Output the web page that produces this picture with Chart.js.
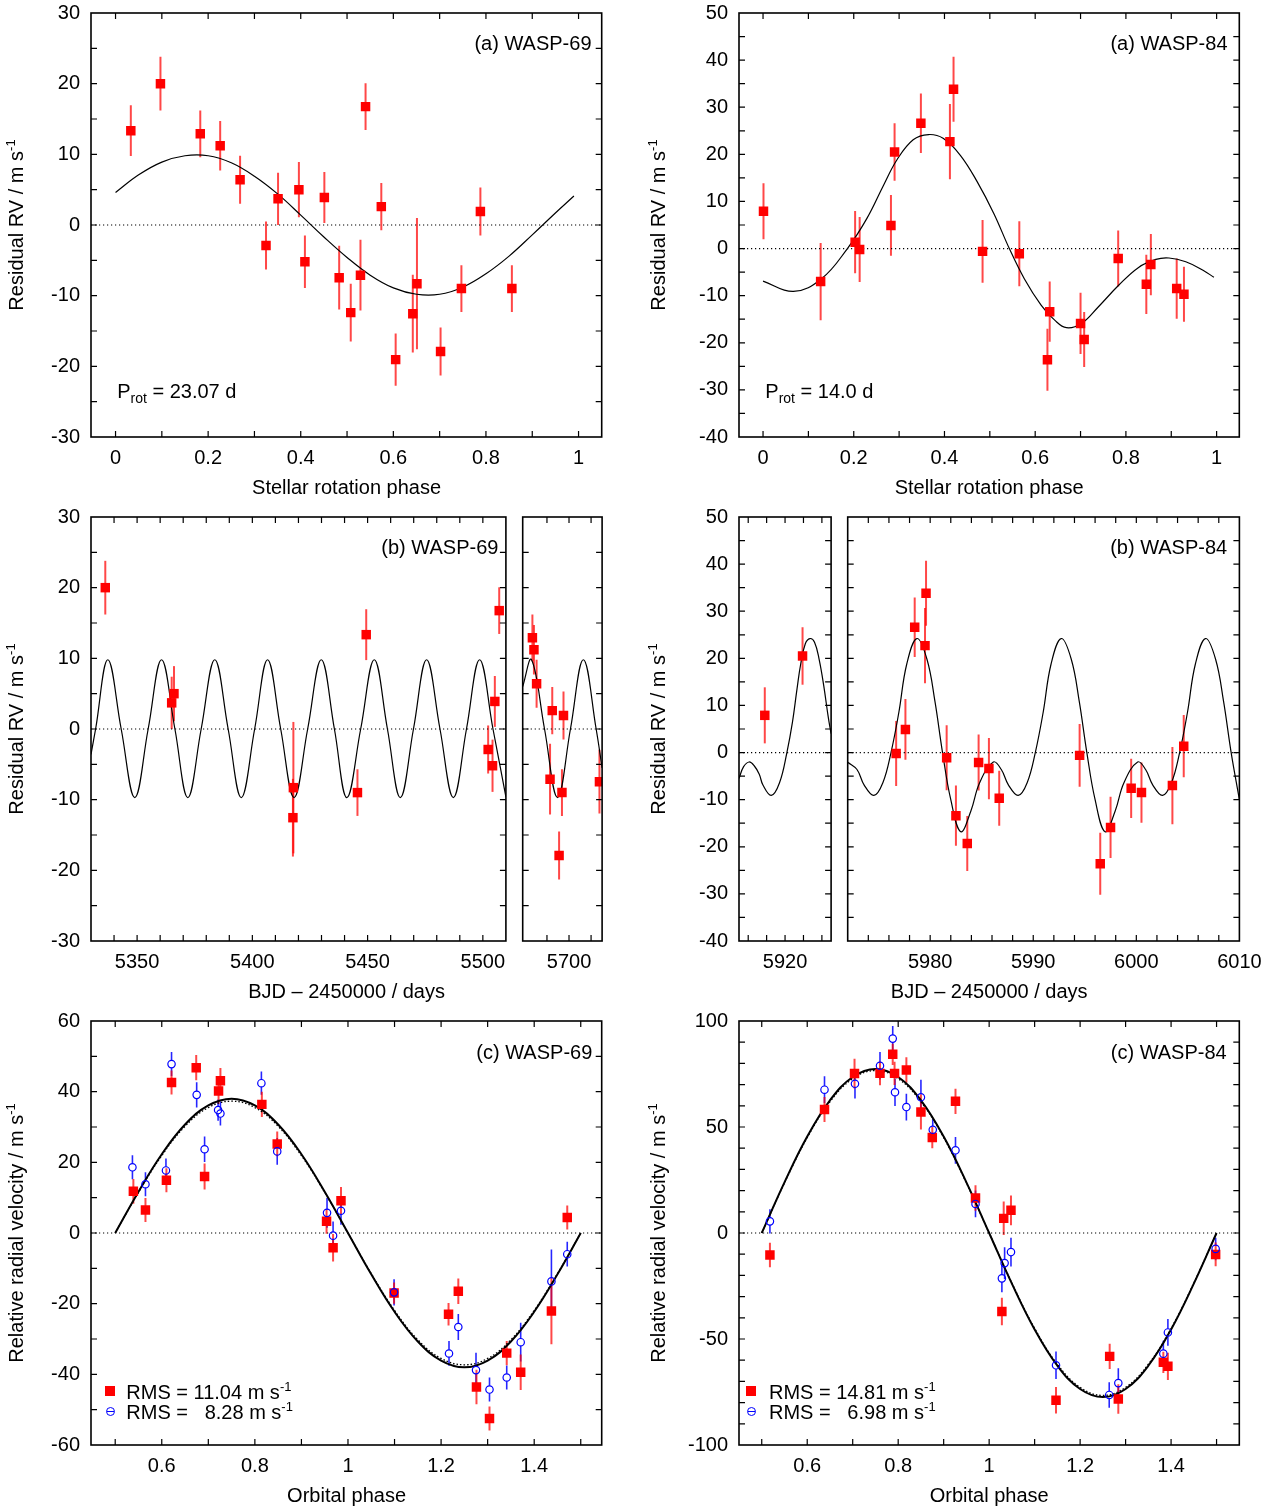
<!DOCTYPE html>
<html>
<head>
<meta charset="utf-8">
<script src="https://cdn.jsdelivr.net/npm/chart.js@4.4.1/dist/chart.umd.min.js"></script>
<style>
  body { margin: 0; width: 1277px; height: 1509px; background: #fff; position: relative; overflow: hidden; }
  canvas { position: absolute; }
  .lbl { position: absolute; font: 20px 'Liberation Sans', Arial, Helvetica, sans-serif; line-height: 20px; white-space: pre; color: #000; }
  .c { transform: translate(-50%, -50%); }
  .r { transform: translate(-100%, -50%); }
  .l { transform: translate(0, -50%); }
  .v { transform: translate(-50%, -50%) rotate(-90deg); }
  .sup { font-size: 13px; position: relative; top: -8px; }
  .sub { font-size: 14px; position: relative; top: 5px; }
  .sq { position: absolute; width: 10px; height: 10px; background: #f00; }
  .circ { position: absolute; width: 7px; height: 7px; border: 1.2px solid #00f; border-radius: 50%; }
  .circ::after { content: ''; position: absolute; left: 0; right: 0; top: 3px; height: 1.2px; background: #00f; }
</style>
</head>
<body>
<canvas id="tl"></canvas>
<canvas id="tr"></canvas>
<canvas id="mla"></canvas>
<canvas id="mlb"></canvas>
<canvas id="mra"></canvas>
<canvas id="mrb"></canvas>
<canvas id="bl"></canvas>
<canvas id="br"></canvas>

<!-- axis titles -->
<div class="lbl v" style="left:16.5px; top:225px">Residual RV / m s<span class="sup">-1</span></div>
<div class="lbl v" style="left:659px; top:225px">Residual RV / m s<span class="sup">-1</span></div>
<div class="lbl v" style="left:16.5px; top:729px">Residual RV / m s<span class="sup">-1</span></div>
<div class="lbl v" style="left:659px; top:729px">Residual RV / m s<span class="sup">-1</span></div>
<div class="lbl v" style="left:16.5px; top:1233px">Relative radial velocity / m s<span class="sup">-1</span></div>
<div class="lbl v" style="left:659px; top:1233px">Relative radial velocity / m s<span class="sup">-1</span></div>

<div class="lbl c" style="left:346.6px; top:487px">Stellar rotation phase</div>
<div class="lbl c" style="left:989.2px; top:487px">Stellar rotation phase</div>
<div class="lbl c" style="left:346.6px; top:991px">BJD – 2450000 / days</div>
<div class="lbl c" style="left:989.2px; top:991px">BJD – 2450000 / days</div>
<div class="lbl c" style="left:346.6px; top:1495px">Orbital phase</div>
<div class="lbl c" style="left:989.2px; top:1495px">Orbital phase</div>

<!-- panel labels -->
<div class="lbl r" style="left:591.5px; top:42.5px">(a) WASP-69</div>
<div class="lbl r" style="left:1227.5px; top:42.5px">(a) WASP-84</div>
<div class="lbl r" style="left:498.4px; top:546.7px">(b) WASP-69</div>
<div class="lbl r" style="left:1227.2px; top:546.7px">(b) WASP-84</div>
<div class="lbl r" style="left:592.3px; top:1051.7px">(c) WASP-69</div>
<div class="lbl r" style="left:1226.7px; top:1051.7px">(c) WASP-84</div>

<div class="lbl l" style="left:117.2px; top:392.3px">P<span class="sub">rot</span> = 23.07 d</div>
<div class="lbl l" style="left:765.3px; top:392.3px">P<span class="sub">rot</span> = 14.0 d</div>

<!-- legends -->
<div class="sq" style="left:104.7px; top:1386px"></div>
<div class="lbl l" style="left:126.3px; top:1393px">RMS = 11.04 m s<span class="sup">-1</span></div>
<div class="circ" style="left:105.5px; top:1407.3px"></div>
<div class="lbl l" style="left:126.3px; top:1413px">RMS =   8.28 m s<span class="sup">-1</span></div>

<div class="sq" style="left:746.3px; top:1386px"></div>
<div class="lbl l" style="left:769px; top:1393px">RMS = 14.81 m s<span class="sup">-1</span></div>
<div class="circ" style="left:747.1px; top:1407.3px"></div>
<div class="lbl l" style="left:769px; top:1413px">RMS =   6.98 m s<span class="sup">-1</span></div>

<script>
// ---------- (a) residual RV vs stellar rotation phase ----------
const rot69Phase = [0.033, 0.097, 0.183, 0.226, 0.269, 0.325, 0.351, 0.396, 0.409, 0.451, 0.483, 0.508, 0.529, 0.540, 0.574, 0.605, 0.642, 0.651, 0.702, 0.747, 0.788, 0.856];
const rot69Res = [13.35, 20.0, 12.9, 11.2, 6.4, -2.9, 3.7, 5.0, -5.2, 3.9, -7.45, -12.4, -7.1, 16.75, 2.6, -19.05, -12.55, -8.3, -17.9, -9.0, 1.9, -9.0];
const rot69Err = [3.6, 3.8, 3.3, 3.5, 3.4, 3.4, 3.7, 3.9, 3.7, 3.6, 4.5, 4.1, 5.0, 3.3, 3.35, 3.7, 5.5, 9.3, 3.4, 3.3, 3.4, 3.3];
const rot69FitPhase = [0, 0.05, 0.1, 0.15, 0.2, 0.25, 0.3, 0.35, 0.4, 0.45, 0.5, 0.55, 0.6, 0.65, 0.7, 0.75, 0.8, 0.85, 0.9, 0.95, 0.99];
const rot69FitRes = [4.6, 7.1, 8.9, 9.8, 9.8, 8.8, 6.9, 4.4, 1.4, -1.7, -4.6, -7.1, -8.9, -9.8, -9.8, -8.8, -6.9, -4.4, -1.4, 1.7, 4.1];

const rot84Phase = [0.001, 0.127, 0.203, 0.213, 0.282, 0.290, 0.348, 0.412, 0.420, 0.484, 0.565, 0.627, 0.632, 0.700, 0.708, 0.783, 0.845, 0.855, 0.912, 0.928];
const rot84Res = [7.9, -7.0, 1.35, -0.2, 4.9, 20.5, 26.6, 22.7, 33.8, -0.6, -1.1, -23.6, -13.4, -15.9, -19.3, -2.1, -7.6, -3.4, -8.5, -9.7];
const rot84Err = [5.95, 8.2, 6.6, 6.9, 6.45, 6.1, 6.3, 8.0, 6.9, 6.65, 6.9, 6.6, 6.4, 6.5, 5.85, 5.95, 6.3, 6.5, 6.4, 5.85];
const rot84FitPhase = [0, 0.067, 0.129, 0.186, 0.229, 0.266, 0.295, 0.331, 0.365, 0.397, 0.435, 0.472, 0.509, 0.543, 0.576, 0.613, 0.643, 0.669, 0.702, 0.739, 0.784, 0.828, 0.866, 0.895, 0.932, 0.970, 0.994];
const rot84FitRes = [-6.9, -9.1, -6.4, 0, 6.4, 13.5, 18.8, 23.1, 24.2, 23.4, 19.8, 14.2, 7.4, 0, -6.4, -12.0, -15.2, -16.8, -15.9, -12.4, -7.8, -4.0, -2.3, -2.0, -2.8, -4.6, -6.1];

// ---------- (b) residual RV vs time ----------
const jd69A = [5336.2, 5365.0, 5366.0, 5417.6, 5417.8, 5445.6, 5449.4, 5502.3, 5504.2, 5505.2, 5507.1];
const res69A = [20.0, 3.7, 5.0, -12.55, -8.3, -9.0, 13.35, -2.9, -5.2, 3.9, 16.75];
const err69A = [3.8, 3.7, 3.9, 5.5, 9.3, 3.3, 3.6, 3.4, 3.7, 3.6, 3.3];
const jd69B = [5683.4, 5684.1, 5685.3, 5691.4, 5692.4, 5695.5, 5696.8, 5697.5, 5713.8];
const res69B = [12.9, 11.2, 6.4, -7.1, 2.6, -17.9, -9.0, 1.9, -7.45];
const err69B = [3.3, 3.5, 3.4, 5.0, 3.35, 3.4, 3.3, 3.4, 4.5];
const jd69FitA = [5330, 5332.0, 5337.3, 5343.1, 5349.0, 5354.8, 5360.6, 5366.4, 5372.0, 5377.8, 5383.7, 5389.5, 5395.2, 5401.0, 5406.6, 5412.3, 5418.1, 5424.0, 5429.9, 5435.6, 5441.0, 5447.0, 5452.9, 5458.6, 5464.2, 5469.9, 5475.6, 5481.4, 5487.2, 5492.9, 5498.6, 5504.4, 5510];
const res69FitA = [-3.6, 0, 9.8, 0, -9.7, 0, 9.8, 0, -9.7, 0, 9.8, 0, -9.7, 0, 9.8, 0, -9.7, 0, 9.8, 0, -9.7, 0, 9.8, 0, -9.7, 0, 9.8, 0, -9.7, 0, 9.8, 0, -9.6];
const jd69FitB = [5679, 5683.0, 5688.9, 5694.8, 5700.65, 5706.5, 5712.3, 5715];
const res69FitB = [6.0, 9.8, 0, -9.7, 0, 9.8, 0, -5.5];

const jd84A = [5917.8, 5921.9];
const res84A = [7.9, 20.5];
const err84A = [5.95, 6.1];
const jd84B = [5976.7, 5977.6, 5978.5, 5979.5, 5979.6, 5981.6, 5982.5, 5983.6, 5984.7, 5985.7, 5986.7, 5994.5, 5996.5, 5997.5, 5999.5, 6000.5, 6003.5, 6004.6];
const res84B = [-0.2, 4.9, 26.6, 22.7, 33.8, -1.1, -13.4, -19.3, -2.1, -3.4, -9.7, -0.6, -23.6, -15.9, -7.6, -8.5, -7.0, 1.35];
const err84B = [6.9, 6.45, 6.3, 8.0, 6.9, 6.9, 6.4, 5.85, 5.95, 6.5, 5.85, 6.65, 6.6, 6.5, 6.3, 6.4, 8.2, 6.6];
const jd84FitA = [5915, 5915.5, 5916.1, 5916.65, 5917.2, 5917.6, 5918.5, 5919.4, 5920.2, 5920.8, 5921.3, 5921.7, 5922.2, 5922.7, 5923.2, 5923.7, 5924.2, 5924.7, 5925];
const res84FitA = [-5.5, -3.0, -2.0, -2.8, -4.6, -6.9, -9.1, -6.4, 0, 6.4, 13.5, 18.8, 23.1, 24.2, 23.4, 19.8, 14.2, 7.4, 4.0];
const jd84FitB = [5972, 5972.9,
  5973.6, 5974.54, 5975.41, 5976.2, 5976.96, 5977.73, 5978.71, 5979.69, 5980.46, 5981.2, 5982.0, 5982.97, 5983.95, 5984.8, 5986.13, 5986.9,
  5987.6, 5988.54, 5989.41, 5990.2, 5990.96, 5991.73, 5992.71, 5993.69, 5994.46, 5995.2, 5996.0, 5996.97, 5997.95, 5998.8, 6000.13, 6000.9,
  6001.6, 6002.54, 6003.41, 6004.2, 6004.96, 6005.73, 6006.71, 6007.69, 6008.46, 6009.2, 6010.0];
const res84FitB = [-2.05, -3.6,
  -6.9, -9.1, -6.4, 0, 8.5, 18.8, 24.2, 19.8, 10.9, 0, -10.0, -16.8, -12.4, -6.4, -2.0, -3.6,
  -6.9, -9.1, -6.4, 0, 8.5, 18.8, 24.2, 19.8, 10.9, 0, -10.0, -16.8, -12.4, -6.4, -2.0, -3.6,
  -6.9, -9.1, -6.4, 0, 8.5, 18.8, 24.2, 19.8, 10.9, 0, -10.0];

// ---------- (c) relative RV vs orbital phase ----------
const orb69PhaseR = [0.539, 0.565, 0.610, 0.621, 0.674, 0.692, 0.722, 0.726, 0.815, 0.848, 0.954, 0.968, 0.985, 1.099, 1.216, 1.237, 1.276, 1.304, 1.341, 1.371, 1.437, 1.471];
const orb69RvR = [11.8, 6.5, 14.9, 42.6, 46.8, 16.0, 40.2, 43.1, 36.4, 25.2, 3.3, -4.2, 9.1, -17.0, -23.0, -16.5, -43.6, -52.5, -34.0, -39.4, -22.1, 4.4];
const orb69ErrR = [3.5, 3.4, 3.4, 3.4, 3.6, 3.7, 3.6, 3.6, 3.6, 3.5, 3.5, 3.9, 3.9, 3.0, 3.2, 3.6, 4.9, 3.4, 3.4, 5.0, 9.4, 3.4];
const orb69PhaseB = [0.537, 0.565, 0.609, 0.621, 0.675, 0.692, 0.721, 0.726, 0.814, 0.848, 0.955, 0.968, 0.985, 1.099, 1.217, 1.237, 1.275, 1.304, 1.341, 1.371, 1.437, 1.471];
const orb69RvB = [18.6, 13.8, 17.7, 47.8, 39.1, 23.7, 34.8, 33.8, 42.4, 23.1, 5.7, -0.75, 6.3, -16.8, -34.1, -26.6, -38.8, -44.3, -40.9, -30.9, -13.7, -6.0];
const orb69ErrB = [3.4, 3.4, 3.4, 3.4, 3.6, 3.6, 3.0, 3.4, 3.3, 3.8, 4.2, 4.0, 4.0, 3.7, 3.5, 3.7, 4.9, 3.4, 3.4, 5.5, 9.0, 3.5];

const orb84PhaseR = [0.518, 0.638, 0.704, 0.760, 0.788, 0.792, 0.818, 0.850, 0.875, 0.926, 0.970, 1.028, 1.032, 1.048, 1.147, 1.265, 1.284, 1.383, 1.393, 1.498];
const orb84RvR = [-10.4, 58.3, 75.2, 75.3, 84.3, 75.3, 76.9, 57.1, 45.0, 62.1, 16.5, -37.0, 6.9, 10.7, -78.9, -58.2, -78.3, -61.0, -62.9, -10.1];
const orb84ErrR = [5.8, 5.9, 7.0, 5.6, 5.0, 5.5, 6.0, 8.3, 5.0, 6.0, 6.0, 6.5, 7.9, 7.0, 6.3, 6.0, 7.0, 5.0, 6.4, 5.6];
const orb84PhaseB = [0.518, 0.638, 0.705, 0.760, 0.788, 0.793, 0.818, 0.850, 0.876, 0.926, 0.970, 1.028, 1.034, 1.048, 1.147, 1.264, 1.284, 1.383, 1.393, 1.498];
const orb84RvB = [5.5, 67.6, 70.4, 78.9, 91.7, 66.4, 59.4, 64.0, 48.7, 39.0, 13.7, -21.4, -14.2, -9.0, -62.4, -76.4, -70.8, -56.9, -46.9, -7.5];
const orb84ErrB = [5.7, 6.3, 7.0, 6.5, 6.0, 6.5, 6.3, 8.3, 5.0, 6.3, 6.3, 6.5, 7.5, 6.8, 6.5, 6.0, 7.0, 6.1, 6.3, 5.3];

const orbFitPhase = [0.5, 0.55, 0.6, 0.65, 0.7, 0.75, 0.8, 0.85, 0.9, 0.95, 1.0, 1.05, 1.1, 1.15, 1.2, 1.25, 1.3, 1.35, 1.4, 1.45, 1.5];
const fit69Solid = [0, 11.7, 22.3, 30.7, 36.1, 38.0, 36.1, 30.7, 22.3, 11.7, 0, -11.7, -22.3, -30.7, -36.1, -38.0, -36.1, -30.7, -22.3, -11.7, 0];
const fit69Dotted = [0, 11.5, 21.9, 30.2, 35.5, 37.3, 35.5, 30.2, 21.9, 11.5, 0, -11.5, -21.9, -30.2, -35.5, -37.3, -35.5, -30.2, -21.9, -11.5, 0];
const fit84Solid = [0, 23.9, 45.5, 62.6, 73.6, 77.4, 73.6, 62.6, 45.5, 23.9, 0, -23.9, -45.5, -62.6, -73.6, -77.4, -73.6, -62.6, -45.5, -23.9, 0];
const fit84Dotted = [0, 23.6, 45.0, 61.9, 72.8, 76.6, 72.8, 61.9, 45.0, 23.6, 0, -23.6, -45.0, -61.9, -72.8, -76.6, -72.8, -61.9, -45.0, -23.6, 0];

// ---------- ticks and labels ----------
const rotTicks = [0, 0.1, 0.2, 0.3, 0.4, 0.5, 0.6, 0.7, 0.8, 0.9, 1];
const rotLabels = [0, 0.2, 0.4, 0.6, 0.8, 1];
const y69Ticks = [-30, -25, -20, -15, -10, -5, 0, 5, 10, 15, 20, 25, 30];
const y69Labels = [-30, -20, -10, 0, 10, 20, 30];
const y84Ticks = [-40, -35, -30, -25, -20, -15, -10, -5, 0, 5, 10, 15, 20, 25, 30, 35, 40, 45, 50];
const y84Labels = [-40, -30, -20, -10, 0, 10, 20, 30, 40, 50];
const jd69ATicks = [5340, 5350, 5360, 5370, 5380, 5390, 5400, 5410, 5420, 5430, 5440, 5450, 5460, 5470, 5480, 5490, 5500];
const jd69ALabels = [5350, 5400, 5450, 5500];
const jd69BTicks = [5690, 5700, 5710];
const jd69BLabels = [5700];
const jd84ATicks = [5916, 5918, 5920, 5922, 5924];
const jd84ALabels = [5920];
const jd84BTicks = [5974, 5976, 5978, 5980, 5982, 5984, 5986, 5988, 5990, 5992, 5994, 5996, 5998, 6000, 6002, 6004, 6006, 6008, 6010];
const jd84BLabels = [5980, 5990, 6000, 6010];
const orbTicks = [0.5, 0.6, 0.7, 0.8, 0.9, 1, 1.1, 1.2, 1.3, 1.4, 1.5];
const orbLabels = [0.6, 0.8, 1, 1.2, 1.4];
const yOrb69Ticks = [-60, -50, -40, -30, -20, -10, 0, 10, 20, 30, 40, 50, 60];
const yOrb69Labels = [-60, -40, -20, 0, 20, 40, 60];
const yOrb84Ticks = [-100, -90, -80, -70, -60, -50, -40, -30, -20, -10, 0, 10, 20, 30, 40, 50, 60, 70, 80, 90, 100];
const yOrb84Labels = [-100, -50, 0, 50, 100];

const FONT = "'Liberation Sans', Arial, Helvetica, sans-serif";
const pts = (xs, ys) => xs.map((x, i) => ({ x, y: ys[i] }));

// border box + inward tick marks on all four sides (gnuplot style)
const frame = {
  id: 'frame',
  afterDatasetsDraw(chart) {
    const { ctx, chartArea: a, scales: { x, y } } = chart;
    const len = 6;
    ctx.save();
    ctx.strokeStyle = '#000';
    ctx.lineWidth = 1.2;
    ctx.beginPath();
    x.ticks.forEach(t => {
      const px = x.getPixelForValue(t.value);
      if (px < a.left + 1.5 || px > a.right - 1.5) return;
      ctx.moveTo(px, a.bottom); ctx.lineTo(px, a.bottom - len);
      ctx.moveTo(px, a.top); ctx.lineTo(px, a.top + len);
    });
    y.ticks.forEach(t => {
      const py = y.getPixelForValue(t.value);
      if (py < a.top + 1.5 || py > a.bottom - 1.5) return;
      ctx.moveTo(a.left, py); ctx.lineTo(a.left + len, py);
      ctx.moveTo(a.right, py); ctx.lineTo(a.right - len, py);
    });
    ctx.stroke();
    ctx.lineWidth = 1.6;
    ctx.strokeRect(a.left, a.top, a.right - a.left, a.bottom - a.top);
    ctx.restore();
  }
};

// vertical error bars, read from dataset.errors
const errorBars = {
  id: 'errorBars',
  beforeDatasetsDraw(chart) {
    const { ctx, chartArea: a, scales: { x, y } } = chart;
    chart.data.datasets.forEach(ds => {
      if (!ds.errors) return;
      ctx.save();
      ctx.beginPath();
      ctx.rect(a.left, a.top, a.right - a.left, a.bottom - a.top);
      ctx.clip();
      ctx.strokeStyle = ds.errorColor;
      ctx.lineWidth = ds.errorWidth;
      ds.data.forEach((p, j) => {
        const px = x.getPixelForValue(p.x);
        const py = y.getPixelForValue(p.y);
        const top = y.getPixelForValue(p.y + ds.errors[j]);
        const bot = y.getPixelForValue(p.y - ds.errors[j]);
        const gap = ds.errorGap || 0;
        ctx.beginPath();
        if (gap) {
          ctx.moveTo(px, top); ctx.lineTo(px, py - gap);
          ctx.moveTo(px, py + gap); ctx.lineTo(px, bot);
        } else {
          ctx.moveTo(px, top); ctx.lineTo(px, bot);
        }
        ctx.stroke();
      });
      ctx.restore();
    });
  }
};

function axis(min, max, ticks, labels, size, show, isX) {
  return {
    type: 'linear', min, max,
    grid: { display: false, drawTicks: false }, border: { display: false },
    afterBuildTicks: s => { s.ticks = ticks.map(v => ({ value: v })); },
    afterFit: s => { if (isX) s.height = size; else s.width = size; },
    ticks: {
      display: show, autoSkip: false, maxRotation: 0, minRotation: 0,
      padding: isX ? 9 : 11, color: '#000', font: { family: FONT, size: 20 },
      callback: v => labels.includes(v) ? String(v) : ''
    }
  };
}

function redSet(data, errors) {
  return { data, errors, errorColor: 'rgba(255,0,0,0.72)', errorWidth: 2,
    pointStyle: 'rect', pointRadius: 6.7, backgroundColor: '#ff0000', borderWidth: 0 };
}
function blueSet(data, errors) {
  return { data, errors, errorColor: 'rgba(0,0,255,0.85)', errorWidth: 1.6, errorGap: 3.7,
    pointStyle: 'circle', pointRadius: 3.7, backgroundColor: 'rgba(0,0,0,0)', borderColor: '#0000ff', borderWidth: 1.2 };
}
function curve(data, width, dash) {
  return { data, showLine: true, pointRadius: 0, borderColor: '#000', borderWidth: width,
    borderDash: dash || [], tension: 0.4, fill: false };
}
function zeroLine(xmin, xmax) {
  return { data: [{ x: xmin, y: 0 }, { x: xmax, y: 0 }], showLine: true, pointRadius: 0,
    borderColor: '#000', borderWidth: 1.2, borderDash: [1.2, 2.8] };
}

// box = [left, top, right, bottom] of the plot frame in page pixels
function makePanel(id, box, xr, yr, datasets, showY) {
  const padTop = 28, padRight = 40;
  const yW = showY ? 70 : 3, xH = 40;
  const plotW = box[2] - box[0], plotH = box[3] - box[1];
  const w = Math.round(plotW + yW + padRight), h = Math.round(plotH + padTop + xH);
  const canvas = document.getElementById(id);
  canvas.width = w; canvas.height = h;
  canvas.style.width = w + 'px'; canvas.style.height = h + 'px';
  canvas.style.left = (box[0] - yW) + 'px';
  canvas.style.top = (box[1] - padTop) + 'px';
  const rightPad = w - yW - plotW;
  return new Chart(canvas, {
    type: 'scatter',
    data: { datasets },
    options: {
      responsive: false, animation: false, events: [],
      devicePixelRatio: 1,
      layout: { padding: { top: padTop, right: rightPad, left: 0, bottom: 0 } },
      plugins: { legend: { display: false }, tooltip: { enabled: false } },
      scales: {
        x: axis(xr[0], xr[1], xr[2], xr[3], xH, true, true),
        y: axis(yr[0], yr[1], yr[2], yr[3], yW, showY, false)
      }
    },
    plugins: [errorBars, frame]
  });
}

// (a) rotation phase
makePanel('tl', [91.3, 13, 602, 437], [-0.053, 1.05, rotTicks, rotLabels], [-30, 30, y69Ticks, y69Labels], [
  redSet(pts(rot69Phase, rot69Res), rot69Err),
  curve(pts(rot69FitPhase, rot69FitRes), 1.2),
  zeroLine(-0.053, 1.05)
], true);
makePanel('tr', [739, 13, 1239.3, 437], [-0.053, 1.05, rotTicks, rotLabels], [-40, 50, y84Ticks, y84Labels], [
  redSet(pts(rot84Phase, rot84Res), rot84Err),
  curve(pts(rot84FitPhase, rot84FitRes), 1.2),
  zeroLine(-0.053, 1.05)
], true);

// (b) time series, split axes
makePanel('mla', [91.3, 517, 506.2, 941], [5330, 5510, jd69ATicks, jd69ALabels], [-30, 30, y69Ticks, y69Labels], [
  redSet(pts(jd69A, res69A), err69A),
  curve(pts(jd69FitA, res69FitA), 1.2),
  zeroLine(5330, 5510)
], true);
makePanel('mlb', [518.6, 517, 601.7, 941], [5679, 5715, jd69BTicks, jd69BLabels], [-30, 30, y69Ticks, y69Labels], [
  redSet(pts(jd69B, res69B), err69B),
  curve(pts(jd69FitB, res69FitB), 1.2),
  zeroLine(5679, 5715)
], false);
makePanel('mra', [739, 517, 831.1, 941], [5915, 5925, jd84ATicks, jd84ALabels], [-40, 50, y84Ticks, y84Labels], [
  redSet(pts(jd84A, res84A), err84A),
  curve(pts(jd84FitA, res84FitA), 1.2),
  zeroLine(5915, 5925)
], true);
makePanel('mrb', [843.9, 517, 1239.3, 941], [5972, 6010, jd84BTicks, jd84BLabels], [-40, 50, y84Ticks, y84Labels], [
  redSet(pts(jd84B, res84B), err84B),
  curve(pts(jd84FitB, res84FitB), 1.2),
  zeroLine(5972, 6010)
], false);

// (c) orbital phase
makePanel('bl', [91.3, 1021, 602, 1445], [0.448, 1.545, orbTicks, orbLabels], [-60, 60, yOrb69Ticks, yOrb69Labels], [
  blueSet(pts(orb69PhaseB, orb69RvB), orb69ErrB),
  redSet(pts(orb69PhaseR, orb69RvR), orb69ErrR),
  curve(pts(orbFitPhase, fit69Solid), 2),
  curve(pts(orbFitPhase, fit69Dotted), 1.3, [1.5, 2]),
  zeroLine(0.448, 1.545)
], true);
makePanel('br', [739, 1021, 1239.3, 1445], [0.45, 1.55, orbTicks, orbLabels], [-100, 100, yOrb84Ticks, yOrb84Labels], [
  blueSet(pts(orb84PhaseB, orb84RvB), orb84ErrB),
  redSet(pts(orb84PhaseR, orb84RvR), orb84ErrR),
  curve(pts(orbFitPhase, fit84Solid), 2),
  curve(pts(orbFitPhase, fit84Dotted), 1.3, [1.5, 2]),
  zeroLine(0.45, 1.55)
], true);
</script>
</body>
</html>
